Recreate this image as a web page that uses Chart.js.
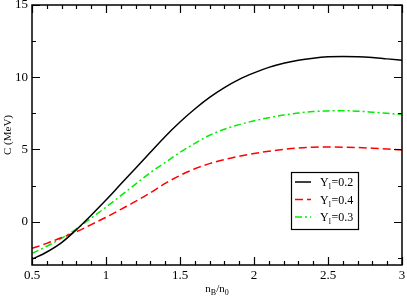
<!DOCTYPE html>
<html lang="en">
<head>
<meta charset="UTF-8">
<title>C vs nB/n0</title>
<script src="https://cdn.jsdelivr.net/npm/chart.js"></script>
<style>
  html, body { margin: 0; padding: 0; background: #fff; }
  #wrap { width: 407px; height: 298px; }
</style>
</head>
<body>
<div id="wrap"><canvas id="c" width="407" height="298"></canvas></div>
<script>
// density grid (nB/n0)
var nB = [0.5, 0.6, 0.7, 0.8, 0.9, 1.0, 1.1, 1.2, 1.3, 1.4, 1.5, 1.6, 1.7,
          1.8, 1.9, 2.0, 2.1, 2.2, 2.3, 2.4, 2.5, 2.6, 2.7, 2.8, 2.9, 3.0];

// C (MeV) for each Yl
var cY02 = [-2.6, -2.1, -1.45, -0.55, 0.45, 1.5, 2.6, 3.7, 4.8, 5.9, 6.9, 7.8, 8.6,
            9.28, 9.85, 10.3, 10.68, 10.97, 11.18, 11.32, 11.41, 11.44, 11.42, 11.36, 11.27, 11.17];
var cY04 = [-1.85, -1.5, -1.1, -0.7, -0.2, 0.3, 0.85, 1.4, 2.0, 2.65, 3.2, 3.66, 4.02,
            4.3, 4.53, 4.72, 4.88, 5.0, 5.1, 5.15, 5.17, 5.16, 5.13, 5.09, 5.03, 4.97];
var cY03 = [-2.2, -1.7, -1.15, -0.5, 0.25, 1.0, 1.8, 2.6, 3.4, 4.1, 4.8, 5.42, 5.98,
            6.4, 6.72, 6.98, 7.2, 7.38, 7.52, 7.62, 7.67, 7.68, 7.65, 7.58, 7.5, 7.42];

var seriesValue = ['0.2', '0.4', '0.3'];

// ticks
var xMajor = [0.5, 1, 1.5, 2, 2.5, 3];
var xMinor = [0.6, 0.7, 0.8, 0.9, 1.1, 1.2, 1.3, 1.4, 1.6, 1.7, 1.8, 1.9,
              2.1, 2.2, 2.3, 2.4, 2.6, 2.7, 2.8, 2.9];
var yMajor = [0, 5, 10, 15];
var yMinor = [-2.5, 2.5, 7.5, 12.5];

var serif = '"Liberation Serif", "DejaVu Serif", serif';

function pts(ys) {
    return nB.map(function(x, i) { return { x: x, y: ys[i] }; });
}

var frameAndLegend = {
    id: 'frameAndLegend',
    afterDraw: function(chart) {
        var ctx = chart.ctx;
        var a = chart.chartArea;
        var xs = chart.scales.x, ys = chart.scales.y;
        ctx.save();
        ctx.strokeStyle = '#000';
        ctx.lineWidth = 1.5;
        ctx.strokeRect(a.left, a.top, a.right - a.left, a.bottom - a.top);

        ctx.lineWidth = 1.2;
        ctx.beginPath();
        function xt(list, len) {
            list.forEach(function(v) {
                var px = Math.round(xs.getPixelForValue(v)) + 0.5;
                ctx.moveTo(px, a.bottom); ctx.lineTo(px, a.bottom - len);
                ctx.moveTo(px, a.top); ctx.lineTo(px, a.top + len);
            });
        }
        function yt(list, len) {
            list.forEach(function(v) {
                var py = Math.round(ys.getPixelForValue(v)) + 0.5;
                ctx.moveTo(a.left, py); ctx.lineTo(a.left + len, py);
                ctx.moveTo(a.right, py); ctx.lineTo(a.right - len, py);
            });
        }
        xt(xMajor, 8); xt(xMinor, 4);
        yt(yMajor, 8); yt(yMinor, 4);
        ctx.stroke();

        // axis titles
        ctx.fillStyle = '#000';
        ctx.textBaseline = 'alphabetic';
        var cx = (a.left + a.right) / 2;
        var base = 292;
        var parts = [['n', 11, 0], ['B', 8, 3], ['/n', 11, 0], ['0', 8, 3]];
        var tw = 0;
        parts.forEach(function(p) { ctx.font = p[1] + 'px ' + serif; tw += ctx.measureText(p[0]).width; });
        var x0 = cx - tw / 2;
        parts.forEach(function(p) {
            ctx.font = p[1] + 'px ' + serif;
            ctx.fillText(p[0], x0, base + p[2]);
            x0 += ctx.measureText(p[0]).width;
        });

        ctx.save();
        ctx.translate(11, (a.top + a.bottom) / 2);
        ctx.rotate(-Math.PI / 2);
        ctx.font = '11px ' + serif;
        ctx.textAlign = 'center';
        ctx.fillText('C (MeV)', 0, 0);
        ctx.restore();

        // legend
        var lx = 291, ly = 172, lw = 67, lh = 57;
        ctx.fillStyle = '#fff';
        ctx.fillRect(lx, ly, lw, lh);
        ctx.lineWidth = 1.2;
        ctx.strokeStyle = '#000';
        ctx.strokeRect(lx + 0.5, ly + 0.5, lw, lh);
        var rows = [182, 199.5, 217];
        chart.data.datasets.forEach(function(ds, i) {
            var ry = rows[i];
            ctx.save();
            ctx.strokeStyle = ds.borderColor;
            ctx.lineWidth = ds.borderWidth;
            ctx.setLineDash(ds.borderDash || []);
            ctx.beginPath();
            ctx.moveTo(295, ry); ctx.lineTo(311, ry);
            ctx.stroke();
            ctx.restore();
            ctx.fillStyle = '#000';
            ctx.textAlign = 'left';
            var tx = 320;
            ctx.font = '12px ' + serif;
            ctx.fillText('Y', tx, ry + 4);
            tx += ctx.measureText('Y').width;
            ctx.font = '8px ' + serif;
            ctx.fillText('l', tx, ry + 7);
            tx += ctx.measureText('l').width + 0.5;
            ctx.font = '12px ' + serif;
            ctx.fillText('=' + seriesValue[i], tx, ry + 4);
        });
        ctx.restore();
    }
};

new Chart(document.getElementById('c').getContext('2d'), {
    type: 'line',
    data: {
        datasets: [
            { label: 'Yl=0.2', data: pts(cY02), borderColor: '#000000', borderWidth: 1.5,
              pointRadius: 0, cubicInterpolationMode: 'monotone', fill: false },
            { label: 'Yl=0.4', data: pts(cY04), borderColor: '#ff0000', borderWidth: 1.5,
              borderDash: [8, 4], pointRadius: 0, cubicInterpolationMode: 'monotone', fill: false },
            { label: 'Yl=0.3', data: pts(cY03), borderColor: '#00ee00', borderWidth: 1.5,
              borderDash: [7, 3, 2, 3], pointRadius: 0, cubicInterpolationMode: 'monotone', fill: false }
        ]
    },
    options: {
        responsive: false,
        animation: false,
        layout: { padding: { top: 5, right: 5, left: 0, bottom: 0 } },
        plugins: { legend: { display: false }, tooltip: { enabled: false } },
        scales: {
            x: {
                type: 'linear', min: 0.5, max: 3,
                afterFit: function(s) { s.height = 33; s.paddingLeft = 0; s.paddingRight = 0; },
                afterBuildTicks: function(s) { s.ticks = xMajor.map(function(v) { return { value: v }; }); },
                grid: { display: false, drawTicks: false },
                border: { display: false },
                ticks: {
                    padding: 3, color: '#000', maxRotation: 0,
                    font: { family: serif, size: 13 },
                    callback: function(v) { return String(v); }
                }
            },
            y: {
                type: 'linear', min: -3, max: 15,
                afterFit: function(s) { s.width = 32; s.paddingTop = 0; s.paddingBottom = 0; },
                afterBuildTicks: function(s) { s.ticks = yMajor.map(function(v) { return { value: v }; }); },
                grid: { display: false, drawTicks: false },
                border: { display: false },
                ticks: {
                    padding: 4, color: '#000',
                    font: { family: serif, size: 13 },
                    callback: function(v) { return String(v); }
                }
            }
        }
    },
    plugins: [frameAndLegend]
});
</script>
</body>
</html>
